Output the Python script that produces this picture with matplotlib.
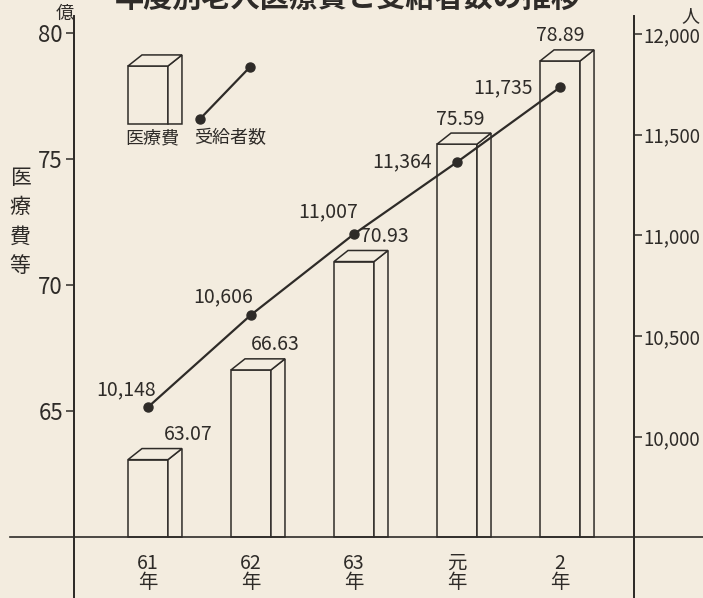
import matplotlib.pyplot as plt
from matplotlib.patches import Polygon
from matplotlib.ticker import FuncFormatter

plt.rcParams['font.family'] = ['Noto Sans CJK JP', 'DejaVu Sans']

# datos
years = ['61\n年', '62\n年', '63\n年', '元\n年', '2\n年']
cost = [63.07, 66.63, 70.93, 75.59, 78.89]          # 医療費 (億)
people = [10148, 10606, 11007, 11364, 11735]        # 受給者数 (人)

bg = '#f3ecdf'
ink = '#2e2b28'

fig = plt.figure(figsize=(7.03, 5.98), dpi=100, facecolor=bg)
ax = fig.add_axes([74 / 703, 0, 560 / 703, 582 / 598])
ax.set_facecolor(bg)
ax2 = ax.twinx()

x = list(range(len(years)))
ax.set_xlim(-0.718, 4.718)
ax.set_ylim(57.58, 80.675)
ax2.set_ylim(9201, 12089)

w = 0.388      # ancho frontal
dx = 0.136     # profundidad horizontal
dy = 0.44      # profundidad vertical
base = 60


def caja(a, xc, y0, y1):
    xl, xr = xc - w / 2, xc + w / 2
    front = Polygon([(xl, y0), (xl, y1), (xr, y1), (xr, y0)], closed=True,
                    fc=bg, ec=ink, lw=1.1, zorder=2)
    side = Polygon([(xr, y0), (xr, y1), (xr + dx, y1 + dy), (xr + dx, y0)], closed=True,
                   fc=bg, ec=ink, lw=1.1, zorder=2)
    top = Polygon([(xl, y1), (xl + dx, y1 + dy), (xr + dx, y1 + dy), (xr, y1)], closed=True,
                  fc=bg, ec=ink, lw=1.1, zorder=2)
    for p in (front, side, top):
        a.add_patch(p)


# barras
bar_dx = [40, 24, 30, 3, 0]
for xi, v, off in zip(x, cost, bar_dx):
    caja(ax, xi, base, v)
    ax.annotate(f'{v:.2f}', (xi, v), xytext=(off, 25), textcoords='offset pixels',
                ha='center', va='center', fontsize=14, color=ink)

# línea de receptores
ax2.plot(x, people, color=ink, lw=1.6, marker='o', ms=6.5, zorder=5)
lab_off = [(-22, 17, 'center'), (-28, 18, 'center'), (-26, 22, 'center'),
           (-25, 0, 'right'), (-27, 0, 'right')]
for xi, p, (ox, oy, ha) in zip(x, people, lab_off):
    ax2.annotate(f'{p:,}', (xi, p), xytext=(ox, oy), textcoords='offset pixels',
                 ha=ha, va='center', fontsize=14, color=ink)

# línea base
ax.plot([-0.114, 1.123], [base, base], color=ink, lw=1.2,
        transform=ax.get_yaxis_transform(), clip_on=False, zorder=3)

# leyenda
caja(ax, 0, 76.39, 78.69)
ax.plot([0.505, 0.990], [76.59, 78.65], color=ink, lw=1.6, marker='o', ms=6.5, zorder=5)
ax.text(0.04, 75.83, '医療費', ha='center', va='center', fontsize=13, color=ink)
ax.text(0.80, 75.83, '受給者数', ha='center', va='center', fontsize=13, color=ink)

# ejes
for a in (ax, ax2):
    a.spines['top'].set_visible(False)
    a.spines['bottom'].set_visible(False)
    a.spines['left'].set_color(ink)
    a.spines['right'].set_color(ink)
    a.spines['left'].set_linewidth(1.3)
    a.spines['right'].set_linewidth(1.3)
ax.set_xticks([])
ax.set_yticks([65, 70, 75, 80])
ax.tick_params(axis='y', length=6, width=1.1, color=ink, labelcolor=ink, labelsize=16, pad=2)
ax2.set_yticks([10000, 10500, 11000, 11500, 12000])
ax2.yaxis.set_major_formatter(FuncFormatter(lambda v, pos: f'{int(v):,}'))
ax2.tick_params(axis='y', length=6, width=1.1, color=ink, labelcolor=ink, labelsize=13.5, pad=0.5)

for xi, t in zip(x, years):
    ax.text(xi, 0.043, t, transform=ax.get_xaxis_transform(), ha='center', va='center',
            fontsize=14, color=ink, linespacing=0.9)

# unidades y etiqueta
fig.text(65 / 703, 1 - 14 / 598, '億', ha='center', va='center', fontsize=13, color=ink)
fig.text(690 / 703, 1 - 16 / 598, '人', ha='center', va='center', fontsize=13, color=ink)
fig.text(20 / 703, 1 - 222 / 598, '医\n療\n費\n等', ha='center', va='center', fontsize=15,
         color=ink, linespacing=1.45)

# título (cortado)
fig.text(348 / 703, 1 - 13 / 598, '年度別老人医療費と受給者数の推移', ha='center', va='bottom',
         fontsize=21, fontweight='bold', color=ink)

fig.savefig('out.png', dpi=100, facecolor=bg)
